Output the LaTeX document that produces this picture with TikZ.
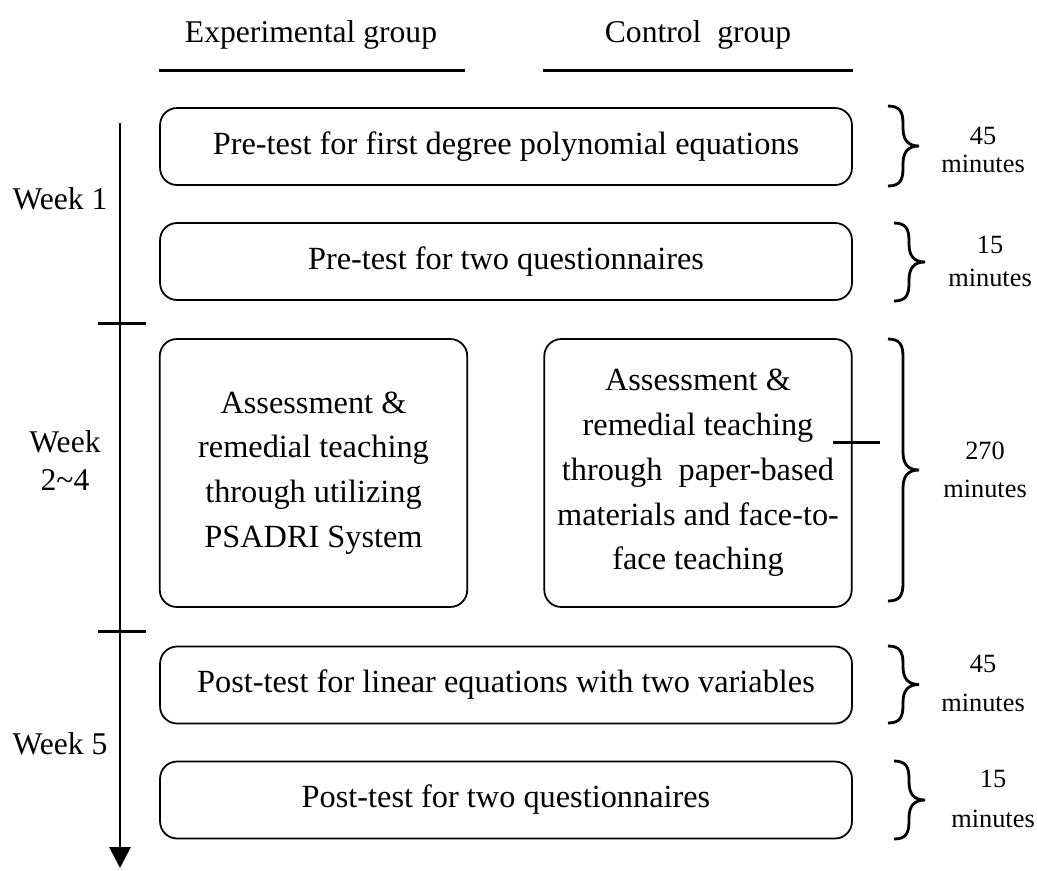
\documentclass[tikz,border=0pt]{standalone}
\usepackage{fontspec}
\setmainfont{Liberation Serif}
\usetikzlibrary{arrows.meta}
% curly brace: left x, top y, bottom y
\newcommand{\curly}[3]{%
	\draw[brc] (#1,#2) .. controls ({#1+12},#2) and ({#1+15},{#2+6}) .. ({#1+15},{#2+18})
	-- ({#1+15},{(#2+#3)/2-18}) .. controls ({#1+15},{(#2+#3)/2-6}) and ({#1+20},{(#2+#3)/2}) .. ({#1+31},{(#2+#3)/2})
	.. controls ({#1+20},{(#2+#3)/2}) and ({#1+15},{(#2+#3)/2+6}) .. ({#1+15},{(#2+#3)/2+18})
	-- ({#1+15},{#3-18}) .. controls ({#1+15},{#3-6}) and ({#1+12},#3) .. (#1,#3);}
\begin{document}
\begin{tikzpicture}[x=0.02cm,y=-0.02cm,
	box/.style = {draw, rounded corners=0.34cm, line width=1pt, inner sep=0pt, align=center, font=\fontsize{18.4}{25.5}\selectfont},
	wide box/.style = {box, minimum width=13.84cm, minimum height=1.54cm},
	tall box/.style = {box, minimum width=6.15cm, minimum height=5.36cm},
	head/.style = {inner sep=0pt, anchor=base, font=\fontsize{18}{22}\selectfont},
	week/.style = {inner sep=0pt, anchor=south, align=center, font=\fontsize{18}{22}\selectfont},
	dur/.style = {inner sep=0pt, anchor=south, align=center, font=\fontsize{15}{16}\selectfont},
	brc/.style = {line width=1.6pt},
	bar/.style = {line width=1.7pt}]
	\useasboundingbox (0,0) rectangle (1037,870);

	\node[head] (exp) at (311,42) {Experimental group};
	\node[head] (ctl) at (698,42) {Control~~group};
	\draw[bar] (159,70) -- (465,70);
	\draw[bar] (543,70) -- (853,70);

	\coordinate (top) at (120,123);
	\coordinate (end) at (120,868);
	\draw[bar,-{Triangle[width=0.42cm,length=0.42cm]}] (top) -- (end);
	\draw[bar] (98,323) -- (146,323);
	\draw[bar] (98,631) -- (146,631);

	\node[week] (w1) at (60,210) {Week 1};
	\node[week] (w2) at (65,491) {Week\\2\textasciitilde4};
	\node[week] (w5) at (60,755) {Week 5};

	\node[wide box] (b1) at (506,146.5) {Pre-test for first degree polynomial equations};
	\node[wide box] (b2) at (506,261.5) {Pre-test for two questionnaires};
	\node[tall box] (b3) at (313.5,473) {Assessment \&\\remedial teaching\\through utilizing\\PSADRI System};
	\node[tall box] (b4) at (698,473) {Assessment \&\\remedial teaching\\through~ paper-based\\materials and face-to-\\face teaching};
	\node[wide box] (b5) at (506,685) {Post-test for linear equations with two variables};
	\node[wide box] (b6) at (506,800) {Post-test for two questionnaires};

	\draw[bar] (833,442) -- (880,442);

	\curly{888}{106}{186}
	\curly{894}{223}{301}
	\curly{888}{339}{601}
	\curly{888}{646}{723}
	\curly{894}{761}{839}

	\node[dur] (t1) at (983,173) {45\\minutes};
	\node[dur] (t2) at (990,287) {15\\[3pt]minutes};
	\node[dur] (t3) at (985,498) {270\\[5.5pt]minutes};
	\node[dur] (t4) at (983,712) {45\\[6pt]minutes};
	\node[dur] (t5) at (993,828) {15\\[6.7pt]minutes};
\end{tikzpicture}
\end{document}
